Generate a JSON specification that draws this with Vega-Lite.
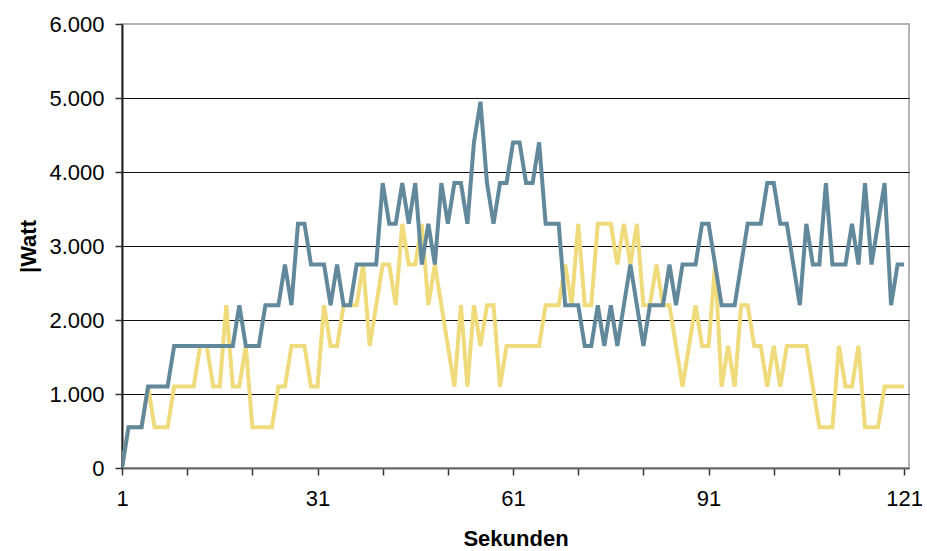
{
  "$schema": "https://vega.github.io/schema/vega-lite/v6.json",
  "width": 787,
  "height": 444,
  "autosize": "none",
  "padding": {"left": 122, "top": 24, "right": 18, "bottom": 83},
  "background": "white",
  "config": {
    "view": {"stroke": "#b4b4b4", "strokeWidth": 2},
    "font": "Liberation Sans"
  },
  "datasets": {
    "blau": [
      {"s":1,"w":0},{"s":2,"w":550},{"s":3,"w":550},{"s":4,"w":550},{"s":5,"w":1100},{"s":6,"w":1100},{"s":7,"w":1100},{"s":8,"w":1100},{"s":9,"w":1650},{"s":10,"w":1650},
      {"s":11,"w":1650},{"s":12,"w":1650},{"s":13,"w":1650},{"s":14,"w":1650},{"s":15,"w":1650},{"s":16,"w":1650},{"s":17,"w":1650},{"s":18,"w":1650},{"s":19,"w":2200},{"s":20,"w":1650},
      {"s":21,"w":1650},{"s":22,"w":1650},{"s":23,"w":2200},{"s":24,"w":2200},{"s":25,"w":2200},{"s":26,"w":2750},{"s":27,"w":2200},{"s":28,"w":3300},{"s":29,"w":3300},{"s":30,"w":2750},
      {"s":31,"w":2750},{"s":32,"w":2750},{"s":33,"w":2200},{"s":34,"w":2750},{"s":35,"w":2200},{"s":36,"w":2200},{"s":37,"w":2750},{"s":38,"w":2750},{"s":39,"w":2750},{"s":40,"w":2750},
      {"s":41,"w":3850},{"s":42,"w":3300},{"s":43,"w":3300},{"s":44,"w":3850},{"s":45,"w":3300},{"s":46,"w":3850},{"s":47,"w":2750},{"s":48,"w":3300},{"s":49,"w":2750},{"s":50,"w":3850},
      {"s":51,"w":3300},{"s":52,"w":3850},{"s":53,"w":3850},{"s":54,"w":3300},{"s":55,"w":4400},{"s":56,"w":4950},{"s":57,"w":3850},{"s":58,"w":3300},{"s":59,"w":3850},{"s":60,"w":3850},
      {"s":61,"w":4400},{"s":62,"w":4400},{"s":63,"w":3850},{"s":64,"w":3850},{"s":65,"w":4400},{"s":66,"w":3300},{"s":67,"w":3300},{"s":68,"w":3300},{"s":69,"w":2200},{"s":70,"w":2200},
      {"s":71,"w":2200},{"s":72,"w":1650},{"s":73,"w":1650},{"s":74,"w":2200},{"s":75,"w":1650},{"s":76,"w":2200},{"s":77,"w":1650},{"s":78,"w":2200},{"s":79,"w":2750},{"s":80,"w":2200},
      {"s":81,"w":1650},{"s":82,"w":2200},{"s":83,"w":2200},{"s":84,"w":2200},{"s":85,"w":2750},{"s":86,"w":2200},{"s":87,"w":2750},{"s":88,"w":2750},{"s":89,"w":2750},{"s":90,"w":3300},
      {"s":91,"w":3300},{"s":92,"w":2750},{"s":93,"w":2200},{"s":94,"w":2200},{"s":95,"w":2200},{"s":96,"w":2750},{"s":97,"w":3300},{"s":98,"w":3300},{"s":99,"w":3300},{"s":100,"w":3850},
      {"s":101,"w":3850},{"s":102,"w":3300},{"s":103,"w":3300},{"s":104,"w":2750},{"s":105,"w":2200},{"s":106,"w":3300},{"s":107,"w":2750},{"s":108,"w":2750},{"s":109,"w":3850},{"s":110,"w":2750},
      {"s":111,"w":2750},{"s":112,"w":2750},{"s":113,"w":3300},{"s":114,"w":2750},{"s":115,"w":3850},{"s":116,"w":2750},{"s":117,"w":3300},{"s":118,"w":3850},{"s":119,"w":2200},{"s":120,"w":2750},
      {"s":121,"w":2750}
    ],
    "gelb": [
      {"s":1,"w":0},{"s":2,"w":550},{"s":3,"w":550},{"s":4,"w":550},{"s":5,"w":1100},{"s":6,"w":550},{"s":7,"w":550},{"s":8,"w":550},{"s":9,"w":1100},{"s":10,"w":1100},
      {"s":11,"w":1100},{"s":12,"w":1100},{"s":13,"w":1650},{"s":14,"w":1650},{"s":15,"w":1100},{"s":16,"w":1100},{"s":17,"w":2200},{"s":18,"w":1100},{"s":19,"w":1100},{"s":20,"w":1650},
      {"s":21,"w":550},{"s":22,"w":550},{"s":23,"w":550},{"s":24,"w":550},{"s":25,"w":1100},{"s":26,"w":1100},{"s":27,"w":1650},{"s":28,"w":1650},{"s":29,"w":1650},{"s":30,"w":1100},
      {"s":31,"w":1100},{"s":32,"w":2200},{"s":33,"w":1650},{"s":34,"w":1650},{"s":35,"w":2200},{"s":36,"w":2200},{"s":37,"w":2200},{"s":38,"w":2750},{"s":39,"w":1650},{"s":40,"w":2200},
      {"s":41,"w":2750},{"s":42,"w":2750},{"s":43,"w":2200},{"s":44,"w":3300},{"s":45,"w":2750},{"s":46,"w":2750},{"s":47,"w":3300},{"s":48,"w":2200},{"s":49,"w":2750},{"s":50,"w":2200},
      {"s":51,"w":1650},{"s":52,"w":1100},{"s":53,"w":2200},{"s":54,"w":1100},{"s":55,"w":2200},{"s":56,"w":1650},{"s":57,"w":2200},{"s":58,"w":2200},{"s":59,"w":1100},{"s":60,"w":1650},
      {"s":61,"w":1650},{"s":62,"w":1650},{"s":63,"w":1650},{"s":64,"w":1650},{"s":65,"w":1650},{"s":66,"w":2200},{"s":67,"w":2200},{"s":68,"w":2200},{"s":69,"w":2750},{"s":70,"w":2200},
      {"s":71,"w":3300},{"s":72,"w":2200},{"s":73,"w":2200},{"s":74,"w":3300},{"s":75,"w":3300},{"s":76,"w":3300},{"s":77,"w":2750},{"s":78,"w":3300},{"s":79,"w":2750},{"s":80,"w":3300},
      {"s":81,"w":2200},{"s":82,"w":2200},{"s":83,"w":2750},{"s":84,"w":2200},{"s":85,"w":2200},{"s":86,"w":1650},{"s":87,"w":1100},{"s":88,"w":1650},{"s":89,"w":2200},{"s":90,"w":1650},
      {"s":91,"w":1650},{"s":92,"w":2750},{"s":93,"w":1100},{"s":94,"w":1650},{"s":95,"w":1100},{"s":96,"w":2200},{"s":97,"w":2200},{"s":98,"w":1650},{"s":99,"w":1650},{"s":100,"w":1100},
      {"s":101,"w":1650},{"s":102,"w":1100},{"s":103,"w":1650},{"s":104,"w":1650},{"s":105,"w":1650},{"s":106,"w":1650},{"s":107,"w":1100},{"s":108,"w":550},{"s":109,"w":550},{"s":110,"w":550},
      {"s":111,"w":1650},{"s":112,"w":1100},{"s":113,"w":1100},{"s":114,"w":1650},{"s":115,"w":550},{"s":116,"w":550},{"s":117,"w":550},{"s":118,"w":1100},{"s":119,"w":1100},{"s":120,"w":1100},
      {"s":121,"w":1100}
    ]
  },
  "encoding": {
    "x": {
      "field": "s",
      "type": "quantitative",
      "scale": {"domain": [1, 121.75], "nice": false, "zero": false},
      "axis": {
        "title": "Sekunden",
        "titleFont": "Liberation Sans",
        "titleFontSize": 22,
        "titleFontWeight": "bold",
        "titleColor": "black",
        "titlePadding": 19,
        "values": [1, 11, 21, 31, 41, 51, 61, 71, 81, 91, 101, 111, 121],
        "labelExpr": "(datum.value - 1) % 30 == 0 ? datum.label : ''",
        "labelFont": "Liberation Sans",
        "labelFontSize": 22,
        "labelColor": "black",
        "labelPadding": 13,
        "labelFlush": false,
        "labelOverlap": false,
        "tickSize": 7,
        "tickColor": "#333",
        "tickWidth": 1.5,
        "domainColor": "#666",
        "domainWidth": 2,
        "grid": false
      }
    },
    "y": {
      "field": "w",
      "type": "quantitative",
      "scale": {"domain": [0, 6000], "nice": false},
      "axis": {
        "title": "|Watt",
        "titleFont": "Liberation Sans",
        "titleFontSize": 22,
        "titleFontWeight": "bold",
        "titleColor": "black",
        "titlePadding": 8,
        "values": [0, 1000, 2000, 3000, 4000, 5000, 6000],
        "labelExpr": "replace(format(datum.value, ','), ',', '.')",
        "labelFont": "Liberation Sans",
        "labelFontSize": 22,
        "labelColor": "black",
        "labelPadding": 11,
        "labelFlush": false,
        "tickSize": 7,
        "tickColor": "#333",
        "tickWidth": 1.5,
        "domainColor": "#222",
        "domainWidth": 2,
        "grid": true,
        "gridColor": {"condition": {"test": "datum.value == 6000", "value": "#b4b4b4"}, "value": "#111"},
        "gridWidth": 1.2
      }
    }
  },
  "layer": [
    {
      "data": {"name": "gelb"},
      "mark": {"type": "line", "color": "#f0db7c", "strokeWidth": 4, "strokeJoin": "miter", "clip": true}
    },
    {
      "data": {"name": "blau"},
      "mark": {"type": "line", "color": "#62889c", "strokeWidth": 4, "strokeJoin": "miter", "clip": true}
    }
  ]
}
